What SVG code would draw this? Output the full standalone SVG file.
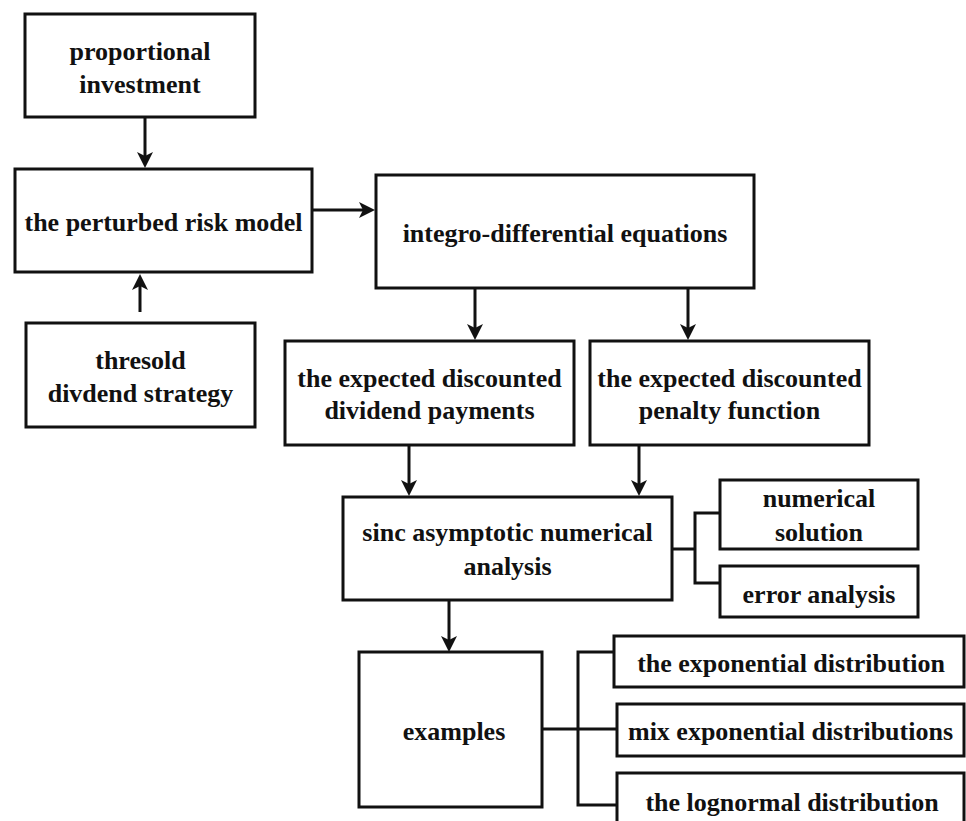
<svg xmlns="http://www.w3.org/2000/svg" width="966" height="821" viewBox="0 0 966 821">
<defs>
<marker id="arr" viewBox="0 0 16 16" refX="6" refY="8" markerWidth="16" markerHeight="16" markerUnits="userSpaceOnUse" orient="auto">
<path d="M0,0 L16,8 L0,16 L4,8 Z" fill="#111"/>
</marker>
<style>
.box{fill:#fff;stroke:#111;stroke-width:3}
.t{font-family:"Liberation Serif","Times New Roman",serif;font-weight:bold;font-size:26px;fill:#111;text-anchor:middle}
.c{fill:none;stroke:#111;stroke-width:3}
.a{fill:none;stroke:#111;stroke-width:3;marker-end:url(#arr)}
</style>
</defs>
<rect width="966" height="821" fill="#fff"/>
<g id="connectors">
<line class="a" x1="145" y1="118" x2="145" y2="158"/>
<line class="a" x1="140" y1="312" x2="140" y2="284"/>
<line class="a" x1="313" y1="210" x2="365" y2="210"/>
<line class="a" x1="475" y1="289" x2="475" y2="330"/>
<line class="a" x1="688" y1="289" x2="688" y2="330"/>
<line class="a" x1="409" y1="446" x2="409" y2="486"/>
<line class="a" x1="639" y1="446" x2="639" y2="486"/>
<line class="a" x1="449" y1="601" x2="449" y2="642"/>
<polyline class="c" points="672,549 695,549"/>
<polyline class="c" points="720,513 695,513 695,583 720,583"/>
<polyline class="c" points="542,729 617,729"/>
<polyline class="c" points="614,652 578,652 578,805 617,805"/>
</g>
<g id="n-proportional">
<rect class="box" x="25" y="14" width="230" height="103"/>
<text class="t" x="140" y="60">proportional</text>
<text class="t" x="140" y="93">investment</text>
</g>
<g id="n-perturbed">
<rect class="box" x="15" y="169" width="297" height="103"/>
<text class="t" x="163.5" y="231">the perturbed risk model</text>
</g>
<g id="n-threshold">
<rect class="box" x="26" y="323" width="229" height="104"/>
<text class="t" x="140.5" y="369">thresold</text>
<text class="t" x="140.5" y="402">divdend strategy</text>
</g>
<g id="n-integro">
<rect class="box" x="376" y="175" width="378" height="113"/>
<text class="t" x="565" y="242">integro-differential equations</text>
</g>
<g id="n-dividend">
<rect class="box" x="285" y="341" width="289" height="104"/>
<text class="t" x="429.5" y="387">the expected discounted</text>
<text class="t" x="429.5" y="419">dividend payments</text>
</g>
<g id="n-penalty">
<rect class="box" x="590" y="341" width="279" height="104"/>
<text class="t" x="729.5" y="387">the expected discounted</text>
<text class="t" x="729.5" y="419">penalty function</text>
</g>
<g id="n-sinc">
<rect class="box" x="343" y="497" width="329" height="103"/>
<text class="t" x="507.5" y="541">sinc asymptotic numerical</text>
<text class="t" x="507.5" y="575">analysis</text>
</g>
<g id="n-numerical">
<rect class="box" x="720" y="480" width="198" height="69"/>
<text class="t" x="819" y="507">numerical</text>
<text class="t" x="819" y="541">solution</text>
</g>
<g id="n-error">
<rect class="box" x="720" y="566" width="198" height="51"/>
<text class="t" x="819" y="603">error analysis</text>
</g>
<g id="n-examples">
<rect class="box" x="359" y="652" width="183" height="155"/>
<text class="t" x="454" y="740">examples</text>
</g>
<g id="n-exponential">
<rect class="box" x="614" y="636" width="350" height="51"/>
<text class="t" x="791" y="672">the exponential distribution</text>
</g>
<g id="n-mix">
<rect class="box" x="617" y="704" width="347" height="52"/>
<text class="t" x="790.5" y="740">mix exponential distributions</text>
</g>
<g id="n-lognormal">
<rect class="box" x="617" y="773" width="347" height="60"/>
<text class="t" x="792" y="811">the lognormal distribution</text>
</g>
</svg>
